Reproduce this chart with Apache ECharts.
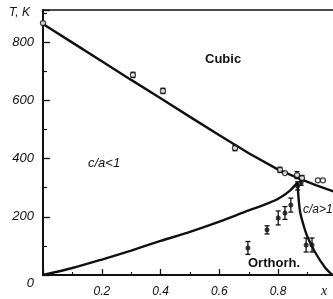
<!DOCTYPE html>
<html>
<head>
<meta charset="utf-8">
<script src="https://cdn.jsdelivr.net/npm/echarts@6/dist/echarts.min.js"></script>
<style>
  html, body { margin: 0; padding: 0; background: #fff; }
  #main { width: 333px; height: 299px; }
</style>
</head>
<body>
<div id="main"></div>
<script>
// cubic / tetragonal boundary
let upperLine = [[0, 862], [0.1, 798], [0.2, 734], [0.3, 670], [0.4, 607], [0.5, 543],
    [0.6, 480], [0.7, 418], [0.8, 362], [0.87, 332], [0.93, 308], [1.0, 283]];
// c/a<1 -> orthorhombic boundary
let lowerLine = [[0, 0], [0.1, 24], [0.2, 53], [0.3, 84], [0.4, 117], [0.5, 148],
    [0.6, 183], [0.7, 222], [0.75, 240], [0.8, 262], [0.84, 290], [0.866, 318]];
// c/a>1 -> orthorhombic boundary
let rightLine = [[0.866, 318], [0.868, 280], [0.874, 220], [0.885, 175], [0.898, 135],
    [0.925, 79], [0.96, 25], [0.985, 0]];
// measured points [x, T, error]
let openPts = [[0, 865, 0], [0.306, 687, 9], [0.408, 632, 9], [0.653, 436, 9],
    [0.806, 361, 9], [0.823, 350, 0], [0.864, 343, 12], [0.881, 333, 9],
    [0.935, 325, 0], [0.952, 325, 0]];
let filledPts = [[0.697, 93, 22], [0.762, 155, 14], [0.80, 196, 24], [0.823, 213, 22],
    [0.843, 240, 24], [0.866, 306, 14], [0.878, 318, 10], [0.895, 103, 24], [0.915, 103, 24]];
let xTicks = [0.2, 0.4, 0.6, 0.8];
let yTicks = [0, 200, 400, 600, 800];

let dom = document.getElementById("main");
let myChart = echarts.init(dom, null, { renderer: "canvas" });

let labelFont = { color: "#111", fontStyle: "italic", fontFamily: "Liberation Sans", fontSize: 12 };

function errBar(params, api) {
    let x = api.value(0), y = api.value(1), e = api.value(2);
    if (!e) return null;
    let top = api.coord([x, y + e]);
    let bot = api.coord([x, y - e]);
    let st = { stroke: "#111", lineWidth: 1.3 };
    return {
        type: "group",
        children: [
            { type: "line", shape: { x1: top[0], y1: top[1], x2: bot[0], y2: bot[1] }, style: st },
            { type: "line", shape: { x1: top[0] - 2.5, y1: top[1], x2: top[0] + 2.5, y2: top[1] }, style: st },
            { type: "line", shape: { x1: bot[0] - 2.5, y1: bot[1], x2: bot[0] + 2.5, y2: bot[1] }, style: st },
        ],
    };
}

let lineStyle = { color: "#111", width: 2.4 };

let option = {
    animation: false,
    backgroundColor: "#fff",
    grid: {
        left: 43, right: -4, top: 10, bottom: 24,
        show: true, borderColor: "#111", borderWidth: 1.5,
        containLabel: false, outerBoundsMode: "none",
    },
    xAxis: {
        type: "value", min: 0, max: 1, interval: 0.2,
        axisLine: { show: true, lineStyle: { color: "#111", width: 2 } },
        axisTick: { show: true, inside: true, length: 6, lineStyle: { color: "#111", width: 1.3 } },
        minorTick: { show: true, splitNumber: 2, length: 3, lineStyle: { color: "#111", width: 1.2 } },
        splitLine: { show: false },
        axisLabel: Object.assign({
            margin: 11,
            formatter: function (v) {
                let hit = xTicks.find(function (t) { return Math.abs(t - v) < 1e-6; });
                return hit !== undefined ? hit.toFixed(1) : "";
            },
        }, labelFont),
    },
    yAxis: {
        type: "value", min: 0, max: 910, interval: 200,
        axisLine: { show: true, lineStyle: { color: "#111", width: 2 } },
        axisTick: { show: true, inside: true, length: 7, lineStyle: { color: "#111", width: 1.3 } },
        minorTick: { show: true, splitNumber: 2, length: 4, lineStyle: { color: "#111", width: 1.2 } },
        splitLine: { show: false },
        axisLabel: Object.assign({
            margin: 9,
            showMaxLabel: false,
            formatter: function (v) {
                if (v === 0) return "{z|0}";
                return yTicks.indexOf(v) >= 0 ? String(v) : "";
            },
            rich: {
                z: { fontStyle: "italic", fontFamily: "Liberation Sans", fontSize: 13, color: "#111", padding: [16, 0, 0, 0] },
            },
        }, labelFont, { fontSize: 13 }),
    },
    series: [
        { type: "line", data: upperLine, symbol: "none", lineStyle: lineStyle, z: 2 },
        { type: "line", data: lowerLine, symbol: "none", smooth: 0.3, lineStyle: lineStyle, z: 2 },
        { type: "line", data: rightLine, symbol: "none", smooth: 0.3, lineStyle: lineStyle, z: 2 },
        { type: "custom", data: openPts, renderItem: errBar, z: 3 },
        { type: "custom", data: filledPts, renderItem: errBar, z: 3 },
        {
            type: "scatter", data: openPts, symbol: "circle", symbolSize: 5, z: 4,
            itemStyle: { color: "#fff", borderColor: "#111", borderWidth: 1.3 },
        },
        {
            type: "scatter", data: filledPts, symbol: "circle", symbolSize: 5, z: 4,
            itemStyle: { color: "#111" },
        },
    ],
    graphic: [
        { type: "text", left: 9, top: 7, style: { text: "T, K", font: "italic 12px 'Liberation Sans'", fill: "#111" } },
        { type: "text", left: 205, top: 53, style: { text: "Cubic", font: "bold 13px 'Liberation Sans'", fill: "#111" } },
        { type: "text", left: 88, top: 157, style: { text: "c/a<1", font: "italic 13px 'Liberation Sans'", fill: "#111" } },
        { type: "text", left: 303, top: 204, style: { text: "c/a>1", font: "italic 12px 'Liberation Sans'", fill: "#111" } },
        { type: "text", left: 248, top: 257, style: { text: "Orthorh.", font: "bold 13px 'Liberation Sans'", fill: "#111" } },
        { type: "text", left: 321, top: 284, style: { text: "x", font: "italic 14px 'Liberation Serif'", fill: "#111" } },
    ],
};

if (option && typeof option === "object") {
    myChart.setOption(option);
}

window.addEventListener("resize", myChart.resize);
</script>
</body>
</html>
